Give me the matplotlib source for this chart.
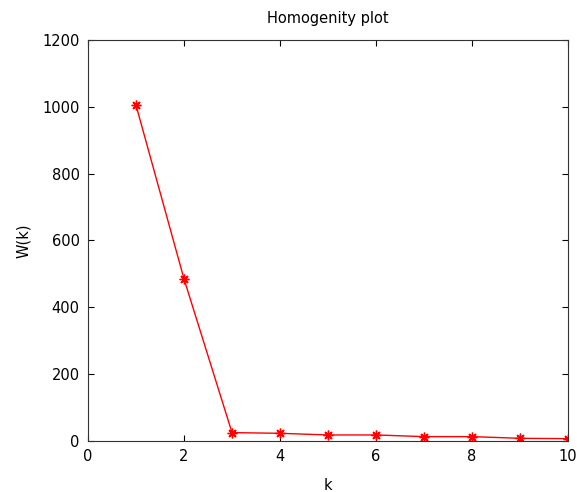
import matplotlib
matplotlib.use("Agg")
import matplotlib.pyplot as plt

k = [1, 2, 3, 4, 5, 6, 7, 8, 9, 10]
W = [1005, 485, 25, 23, 18, 18, 13, 13, 8, 7]
xticks = [0, 2, 4, 6, 8, 10]
yticks = [0, 200, 400, 600, 800, 1000, 1200]

plt.rcParams['font.family'] = ['DejaVu Sans']
fig = plt.figure(figsize=(5.77, 4.92), dpi=100)
ax = fig.add_axes([0.1525, 0.1037, 0.832, 0.815])
ax.plot(k, W, color='red', linewidth=1, marker=(8, 2, 0), markersize=7,
        markeredgewidth=1.0)
ax.set_xlim(0, 10)
ax.set_ylim(0, 1200)
ax.set_xticks(xticks)
ax.set_yticks(yticks)
ax.tick_params(direction='in', top=True, right=True, labelsize=10.5, length=4, pad=6)
ax.set_xlabel('k', fontsize=10.5, labelpad=10)
ax.set_ylabel('W(k)', fontsize=10.5, labelpad=8)
ax.set_title('Homogenity plot', fontsize=10.5, pad=12)
for s in ax.spines.values():
    s.set_color('#333333')
fig.savefig('out.png', dpi=100)
